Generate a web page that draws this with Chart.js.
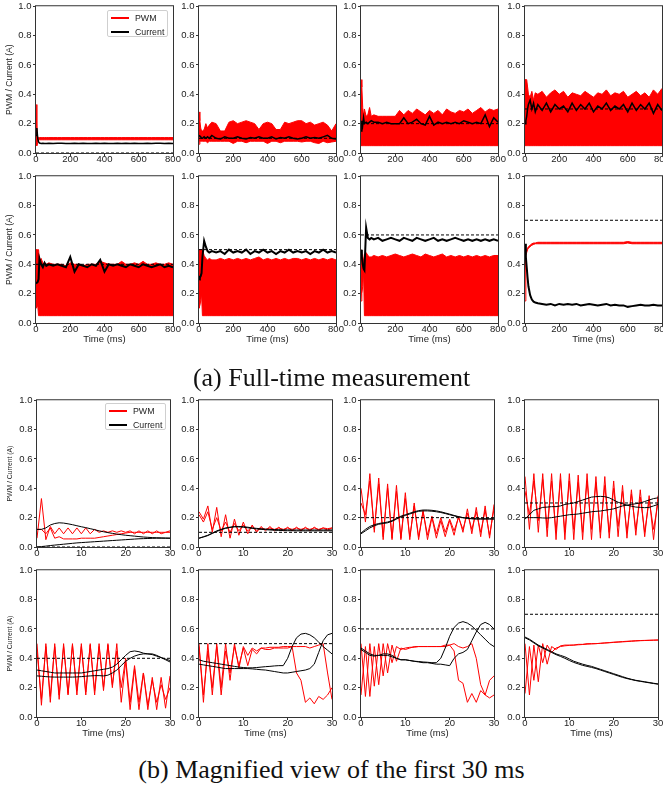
<!DOCTYPE html>
<html>
<head>
<meta charset="utf-8">
<script src="https://cdn.jsdelivr.net/npm/chart.js@4.4.1/dist/chart.umd.min.js"></script>
<style>
  body { margin: 0; width: 663px; height: 789px; overflow: hidden; background: #fff; position: relative; font-family: "Liberation Sans", Arial, sans-serif; }
  canvas { position: absolute; }
  .legend { position: absolute; width: 61px; height: 27px; border: 1px solid #cfcfcf; border-radius: 2px; background: rgba(255,255,255,0.85); box-sizing: border-box; }
  .legend .row { position: absolute; left: 0; font-size: 8.8px; color: #222; line-height: 10px; }
  .legend .swatch { position: absolute; left: 3px; width: 18px; height: 0; border-top: 2px solid; }
  .legend .lbl { position: absolute; left: 27px; top: -4px; white-space: nowrap; }
  .caption { position: absolute; left: 0; width: 663px; text-align: center; font-family: "Liberation Serif", "Times New Roman", serif; font-size: 26px; line-height: 26px; color: #111; }
</style>
</head>
<body>
<script>
// time axes (ms)
const tFull = [0,5,10,15,20,30,40,50,60,75,
  100,125,150,175,200,225,250,275,300,325,
  350,375,400,425,450,475,500,525,550,575,
  600,625,650,675,700,725,750,775,800];
const tZoom = [0,1,2,3,4,5,6,7,8,9,10,11,12,13,14,15,16,17,18,19,20,21,22,23,24,25,26,27,28,29,30];
const xTicksFull = [0,200,400,600,800];
const xTicksZoom = [0,10,20,30];
const yTicks = [0.0,0.2,0.4,0.6,0.8,1.0];
const targets = [0.0,0.1,0.2,0.3,0.4,0.5,0.6,0.7];

// full-time measurement: PWM envelope (high / low) and current
const pwmHi1 = [0.33,0.14,0.11,0.105,0.105,0.105,0.105,0.105,0.105,0.105,
  0.105,0.105,0.105,0.105,0.105,0.105,0.105,0.105,0.105,0.105,
  0.105,0.105,0.105,0.105,0.105,0.105,0.105,0.105,0.105,0.105,
  0.105,0.105,0.105,0.105,0.105,0.105,0.105,0.105,0.105];
const pwmLo1 = [0.06,0.05,0.07,0.09,0.09,0.09,0.09,0.09,0.09,0.09,
  0.09,0.09,0.09,0.09,0.09,0.09,0.09,0.09,0.09,0.09,
  0.09,0.09,0.09,0.09,0.09,0.09,0.09,0.09,0.09,0.09,
  0.09,0.09,0.09,0.09,0.09,0.09,0.09,0.09,0.09];
const cur1 = [0.12,0.17,0.10,0.075,0.068,0.065,0.066,0.064,0.065,0.066,
  0.065,0.067,0.066,0.065,0.064,0.066,0.065,0.066,0.064,0.065,
  0.066,0.065,0.067,0.065,0.064,0.066,0.065,0.066,0.065,0.067,
  0.065,0.064,0.066,0.065,0.067,0.066,0.065,0.066,0.065];

const pwmHi2 = [0.28,0.22,0.17,0.15,0.15,0.16,0.20,0.17,0.19,0.21,
  0.20,0.15,0.15,0.21,0.22,0.20,0.21,0.22,0.21,0.20,
  0.16,0.20,0.21,0.20,0.16,0.16,0.21,0.20,0.21,0.22,
  0.22,0.20,0.21,0.19,0.20,0.21,0.19,0.15,0.20];
const pwmLo2 = [0.06,0.08,0.08,0.08,0.08,0.08,0.08,0.07,0.08,0.08,
  0.08,0.08,0.08,0.08,0.065,0.08,0.08,0.07,0.08,0.08,
  0.08,0.08,0.065,0.08,0.08,0.07,0.08,0.08,0.08,0.08,
  0.075,0.08,0.08,0.07,0.065,0.08,0.07,0.075,0.08];
const cur2 = [0.12,0.12,0.11,0.10,0.10,0.11,0.10,0.11,0.10,0.12,
  0.10,0.095,0.11,0.10,0.10,0.11,0.10,0.095,0.105,0.10,
  0.11,0.10,0.10,0.11,0.095,0.105,0.10,0.11,0.10,0.095,
  0.10,0.11,0.10,0.105,0.10,0.11,0.12,0.10,0.095];

const pwmHi3 = [0.50,0.45,0.31,0.25,0.30,0.25,0.26,0.31,0.25,0.26,
  0.25,0.25,0.25,0.25,0.25,0.29,0.26,0.29,0.27,0.30,
  0.28,0.26,0.29,0.27,0.29,0.26,0.30,0.28,0.27,0.29,
  0.28,0.30,0.27,0.29,0.31,0.28,0.30,0.29,0.30];
const pwmLo3 = [0.05,0.05,0.05,0.05,0.05,0.05,0.05,0.05,0.05,0.05,
  0.05,0.05,0.05,0.05,0.05,0.05,0.05,0.05,0.05,0.05,
  0.05,0.05,0.05,0.05,0.05,0.05,0.05,0.05,0.05,0.05,
  0.05,0.05,0.05,0.05,0.05,0.05,0.05,0.05,0.05];
const cur3 = [0.15,0.22,0.19,0.24,0.20,0.21,0.20,0.21,0.22,0.21,
  0.21,0.20,0.21,0.20,0.20,0.20,0.24,0.20,0.21,0.23,
  0.20,0.19,0.25,0.19,0.21,0.20,0.21,0.20,0.21,0.20,
  0.22,0.21,0.20,0.21,0.20,0.26,0.18,0.24,0.21];

const pwmHi4 = [0.50,0.50,0.50,0.45,0.40,0.38,0.42,0.36,0.41,0.40,
  0.42,0.38,0.41,0.43,0.40,0.42,0.38,0.41,0.40,0.39,
  0.42,0.40,0.38,0.41,0.40,0.43,0.39,0.41,0.40,0.42,
  0.38,0.40,0.42,0.39,0.41,0.38,0.43,0.40,0.44];
const pwmLo4 = [0.05,0.05,0.05,0.05,0.05,0.05,0.05,0.05,0.05,0.05,
  0.05,0.05,0.05,0.05,0.05,0.05,0.05,0.05,0.05,0.05,
  0.05,0.05,0.05,0.05,0.05,0.05,0.05,0.05,0.05,0.05,
  0.05,0.05,0.05,0.05,0.05,0.05,0.05,0.05,0.05];
const cur4 = [0.20,0.22,0.25,0.30,0.33,0.36,0.30,0.34,0.28,0.33,
  0.29,0.34,0.28,0.33,0.30,0.32,0.28,0.34,0.29,0.33,
  0.30,0.34,0.28,0.32,0.30,0.34,0.29,0.32,0.30,0.33,
  0.28,0.34,0.29,0.33,0.30,0.34,0.27,0.33,0.29];

const pwmHi5 = [0.50,0.50,0.50,0.50,0.42,0.44,0.41,0.40,0.40,0.41,
  0.40,0.40,0.40,0.39,0.41,0.40,0.40,0.39,0.40,0.40,
  0.40,0.42,0.41,0.40,0.40,0.40,0.42,0.40,0.40,0.41,
  0.40,0.42,0.40,0.40,0.41,0.40,0.40,0.41,0.40];
const pwmLo5 = [0.10,0.10,0.12,0.05,0.05,0.05,0.05,0.05,0.05,0.05,
  0.05,0.05,0.05,0.05,0.05,0.05,0.05,0.05,0.05,0.05,
  0.05,0.05,0.05,0.05,0.05,0.05,0.05,0.05,0.05,0.05,
  0.05,0.05,0.05,0.05,0.05,0.05,0.05,0.05,0.05];
const cur5 = [0.27,0.27,0.28,0.30,0.44,0.40,0.38,0.41,0.39,0.40,
  0.39,0.40,0.39,0.38,0.45,0.35,0.40,0.39,0.38,0.40,
  0.39,0.43,0.35,0.40,0.39,0.40,0.39,0.38,0.40,0.39,
  0.38,0.40,0.39,0.38,0.39,0.40,0.38,0.39,0.38];

const pwmHi6 = [0.50,0.50,0.50,0.50,0.50,0.46,0.44,0.43,0.44,0.43,
  0.43,0.44,0.43,0.44,0.43,0.44,0.43,0.44,0.43,0.44,
  0.45,0.43,0.44,0.43,0.44,0.43,0.44,0.43,0.44,0.44,
  0.43,0.44,0.43,0.44,0.43,0.44,0.43,0.44,0.43];
const pwmLo6 = [0.10,0.10,0.15,0.20,0.05,0.05,0.05,0.05,0.05,0.05,
  0.05,0.05,0.05,0.05,0.05,0.05,0.05,0.05,0.05,0.05,
  0.05,0.05,0.05,0.05,0.05,0.05,0.05,0.05,0.05,0.05,
  0.05,0.05,0.05,0.05,0.05,0.05,0.05,0.05,0.05];
const cur6 = [0.32,0.31,0.32,0.34,0.45,0.56,0.52,0.49,0.48,0.49,
  0.48,0.49,0.47,0.50,0.48,0.49,0.48,0.50,0.47,0.49,
  0.48,0.50,0.48,0.49,0.47,0.49,0.48,0.50,0.48,0.49,
  0.48,0.49,0.47,0.49,0.48,0.50,0.48,0.49,0.48];

const pwmHi7 = [0.50,0.50,0.45,0.42,0.47,0.48,0.46,0.45,0.45,0.46,
  0.45,0.46,0.45,0.46,0.47,0.46,0.45,0.46,0.47,0.46,
  0.45,0.47,0.46,0.45,0.46,0.47,0.45,0.46,0.45,0.46,
  0.45,0.46,0.45,0.46,0.45,0.46,0.45,0.46,0.46];
const pwmLo7 = [0.15,0.20,0.25,0.35,0.05,0.05,0.05,0.05,0.05,0.05,
  0.05,0.05,0.05,0.05,0.05,0.05,0.05,0.05,0.05,0.05,
  0.05,0.05,0.05,0.05,0.05,0.05,0.05,0.05,0.05,0.05,
  0.05,0.05,0.05,0.05,0.05,0.05,0.05,0.05,0.05];
const cur7 = [0.50,0.45,0.40,0.37,0.36,0.65,0.58,0.57,0.58,0.57,
  0.58,0.56,0.57,0.58,0.57,0.56,0.58,0.57,0.56,0.58,
  0.57,0.56,0.57,0.58,0.56,0.57,0.56,0.57,0.58,0.57,
  0.56,0.57,0.56,0.57,0.56,0.57,0.56,0.57,0.56];

const pwmHi8 = [0.50,0.49,0.50,0.51,0.52,0.53,0.54,0.545,0.545,0.55,
  0.55,0.55,0.55,0.55,0.55,0.55,0.55,0.55,0.55,0.55,
  0.55,0.55,0.55,0.55,0.55,0.55,0.55,0.55,0.55,0.55,
  0.555,0.55,0.55,0.55,0.55,0.55,0.55,0.55,0.55];
const pwmLo8 = [0.15,0.46,0.48,0.50,0.51,0.52,0.53,0.535,0.54,0.54,
  0.54,0.54,0.54,0.54,0.54,0.54,0.54,0.54,0.54,0.54,
  0.54,0.54,0.54,0.54,0.54,0.54,0.54,0.54,0.54,0.54,
  0.545,0.54,0.54,0.54,0.54,0.54,0.54,0.54,0.54];
const cur8 = [0.54,0.45,0.38,0.31,0.25,0.19,0.16,0.145,0.14,0.135,
  0.13,0.125,0.13,0.12,0.13,0.125,0.13,0.125,0.13,0.12,
  0.125,0.13,0.125,0.12,0.125,0.13,0.12,0.125,0.12,0.12,
  0.11,0.115,0.12,0.125,0.12,0.12,0.125,0.12,0.12];

// first 30 ms: two runs each (A / B)
const zPwmA1 = [0.06,0.33,0.05,0.14,0.09,0.13,0.09,0.13,0.09,0.13,0.09,0.13,0.09,0.12,0.10,0.11,0.10,0.11,0.10,0.11,0.10,0.11,0.09,0.11,0.09,0.11,0.09,0.11,0.09,0.10,0.11];
const zPwmB1 = [0.12,0.12,0.09,0.13,0.06,0.07,0.055,0.055,0.055,0.055,0.06,0.06,0.06,0.06,0.065,0.07,0.075,0.08,0.085,0.09,0.095,0.10,0.10,0.10,0.10,0.10,0.10,0.10,0.10,0.10,0.10];
const zCurA1 = [0.12,0.12,0.13,0.15,0.16,0.165,0.163,0.158,0.152,0.145,0.138,0.132,0.125,0.118,0.11,0.104,0.098,0.093,0.088,0.084,0.08,0.077,0.074,0.071,0.068,0.066,0.064,0.063,0.062,0.061,0.06];
const zCurB1 = [0.0,0.003,0.006,0.01,0.013,0.016,0.019,0.022,0.025,0.028,0.03,0.032,0.034,0.036,0.038,0.04,0.042,0.044,0.046,0.048,0.05,0.052,0.054,0.056,0.057,0.058,0.059,0.06,0.06,0.06,0.06];

const zPwmA2 = [0.24,0.19,0.28,0.10,0.27,0.07,0.22,0.06,0.19,0.08,0.17,0.09,0.15,0.10,0.14,0.11,0.14,0.11,0.135,0.11,0.135,0.11,0.135,0.11,0.135,0.11,0.135,0.115,0.13,0.115,0.13];
const zPwmB2 = [0.22,0.17,0.24,0.12,0.20,0.11,0.17,0.10,0.16,0.11,0.15,0.11,0.14,0.11,0.13,0.12,0.13,0.12,0.13,0.12,0.13,0.12,0.13,0.12,0.13,0.12,0.13,0.12,0.13,0.125,0.13];
const zCurA2 = [0.06,0.07,0.08,0.095,0.11,0.12,0.13,0.135,0.14,0.14,0.138,0.135,0.13,0.127,0.124,0.122,0.12,0.119,0.118,0.117,0.117,0.116,0.116,0.116,0.116,0.116,0.116,0.116,0.116,0.116,0.116];
const zCurB2 = [0.06,0.068,0.078,0.092,0.106,0.118,0.127,0.133,0.137,0.137,0.135,0.131,0.127,0.123,0.12,0.118,0.116,0.114,0.113,0.112,0.111,0.111,0.11,0.11,0.11,0.11,0.11,0.11,0.11,0.11,0.11];

const zPwmA3 = [0.40,0.17,0.50,0.10,0.47,0.05,0.43,0.05,0.42,0.05,0.37,0.05,0.30,0.05,0.25,0.05,0.20,0.06,0.18,0.07,0.18,0.08,0.21,0.10,0.26,0.09,0.27,0.07,0.28,0.06,0.29];
const zPwmB3 = [0.30,0.22,0.45,0.12,0.43,0.07,0.40,0.06,0.38,0.06,0.33,0.07,0.28,0.07,0.24,0.08,0.21,0.09,0.20,0.10,0.19,0.11,0.20,0.12,0.23,0.12,0.24,0.10,0.25,0.08,0.26];
const zCurA3 = [0.09,0.11,0.13,0.145,0.155,0.16,0.165,0.175,0.19,0.205,0.215,0.225,0.235,0.243,0.246,0.246,0.244,0.24,0.235,0.228,0.22,0.212,0.205,0.2,0.196,0.194,0.193,0.193,0.193,0.193,0.192];
const zCurB3 = [0.095,0.12,0.14,0.152,0.16,0.165,0.17,0.18,0.195,0.21,0.22,0.23,0.24,0.248,0.252,0.252,0.25,0.246,0.24,0.232,0.224,0.215,0.207,0.2,0.195,0.192,0.19,0.19,0.19,0.19,0.19];

const zPwmA4 = [0.48,0.12,0.50,0.10,0.50,0.07,0.50,0.05,0.50,0.05,0.50,0.05,0.49,0.05,0.50,0.05,0.48,0.06,0.48,0.06,0.45,0.07,0.42,0.06,0.39,0.08,0.39,0.07,0.35,0.05,0.35];
const zPwmB4 = [0.38,0.22,0.45,0.18,0.46,0.13,0.45,0.10,0.46,0.10,0.45,0.12,0.44,0.10,0.45,0.12,0.44,0.10,0.42,0.10,0.40,0.14,0.38,0.10,0.36,0.12,0.34,0.10,0.32,0.12,0.30];
const zCurA4 = [0.19,0.22,0.25,0.26,0.27,0.272,0.275,0.275,0.28,0.29,0.295,0.30,0.31,0.32,0.33,0.34,0.343,0.345,0.343,0.335,0.32,0.305,0.295,0.285,0.278,0.272,0.27,0.268,0.27,0.28,0.29];
const zCurB4 = [0.20,0.20,0.20,0.20,0.198,0.197,0.2,0.205,0.21,0.215,0.22,0.222,0.225,0.23,0.235,0.24,0.243,0.245,0.25,0.255,0.26,0.27,0.28,0.285,0.29,0.295,0.30,0.31,0.32,0.33,0.335];

const zPwmA5 = [0.50,0.08,0.50,0.10,0.50,0.12,0.50,0.15,0.50,0.15,0.50,0.15,0.50,0.15,0.50,0.18,0.50,0.20,0.50,0.10,0.38,0.05,0.33,0.05,0.30,0.05,0.27,0.05,0.27,0.06,0.28];
const zPwmB5 = [0.45,0.12,0.48,0.14,0.48,0.15,0.48,0.16,0.49,0.18,0.48,0.17,0.49,0.18,0.48,0.20,0.49,0.22,0.45,0.20,0.40,0.10,0.35,0.10,0.30,0.08,0.25,0.10,0.22,0.12,0.20];
const zCurA5 = [0.32,0.315,0.31,0.305,0.30,0.30,0.30,0.30,0.30,0.30,0.30,0.305,0.31,0.315,0.32,0.325,0.33,0.34,0.36,0.39,0.42,0.445,0.45,0.445,0.435,0.43,0.425,0.415,0.405,0.395,0.385];
const zCurB5 = [0.28,0.278,0.275,0.273,0.272,0.272,0.272,0.272,0.272,0.273,0.275,0.278,0.28,0.282,0.282,0.28,0.285,0.30,0.32,0.35,0.38,0.40,0.415,0.425,0.43,0.43,0.43,0.42,0.405,0.39,0.375];

const zPwmA6 = [0.50,0.10,0.50,0.15,0.50,0.20,0.50,0.25,0.50,0.33,0.48,0.42,0.47,0.45,0.47,0.47,0.475,0.475,0.475,0.48,0.48,0.48,0.30,0.25,0.10,0.13,0.09,0.14,0.12,0.15,0.20];
const zPwmB6 = [0.48,0.15,0.45,0.20,0.48,0.15,0.45,0.30,0.48,0.35,0.47,0.35,0.46,0.43,0.47,0.46,0.46,0.47,0.47,0.47,0.47,0.48,0.48,0.48,0.48,0.47,0.48,0.49,0.50,0.30,0.12];
const zCurA6 = [0.39,0.38,0.375,0.37,0.365,0.36,0.355,0.35,0.345,0.34,0.337,0.335,0.335,0.337,0.34,0.343,0.345,0.348,0.35,0.35,0.40,0.48,0.54,0.565,0.57,0.56,0.54,0.51,0.48,0.455,0.43];
const zCurB6 = [0.36,0.355,0.35,0.345,0.34,0.335,0.33,0.33,0.33,0.33,0.33,0.33,0.328,0.325,0.322,0.32,0.315,0.31,0.305,0.30,0.30,0.305,0.31,0.315,0.32,0.33,0.36,0.44,0.52,0.56,0.57];

const zPwmA7 = [0.50,0.14,0.50,0.21,0.50,0.28,0.50,0.37,0.48,0.46,0.47,0.475,0.475,0.48,0.48,0.48,0.48,0.48,0.48,0.49,0.49,0.45,0.25,0.23,0.10,0.16,0.10,0.18,0.15,0.25,0.28];
const zPwmB7 = [0.15,0.48,0.14,0.48,0.22,0.50,0.30,0.49,0.38,0.47,0.46,0.47,0.48,0.48,0.48,0.48,0.48,0.48,0.48,0.48,0.49,0.50,0.48,0.47,0.48,0.50,0.40,0.22,0.15,0.13,0.15];
const zCurA7 = [0.47,0.45,0.43,0.42,0.42,0.42,0.42,0.41,0.40,0.39,0.39,0.385,0.38,0.378,0.375,0.373,0.37,0.37,0.40,0.47,0.55,0.61,0.64,0.65,0.64,0.62,0.59,0.56,0.53,0.50,0.48];
const zCurB7 = [0.46,0.44,0.42,0.415,0.42,0.43,0.43,0.42,0.40,0.39,0.39,0.385,0.38,0.375,0.37,0.37,0.365,0.36,0.36,0.355,0.35,0.40,0.43,0.44,0.46,0.52,0.58,0.63,0.645,0.63,0.60];

const zPwmA8 = [0.50,0.15,0.49,0.24,0.50,0.36,0.48,0.46,0.485,0.49,0.49,0.49,0.495,0.495,0.50,0.50,0.50,0.502,0.505,0.507,0.51,0.512,0.514,0.516,0.518,0.52,0.521,0.522,0.523,0.524,0.525];
const zPwmB8 = [0.16,0.48,0.25,0.49,0.37,0.49,0.44,0.47,0.48,0.485,0.488,0.49,0.492,0.494,0.496,0.498,0.50,0.502,0.504,0.506,0.508,0.51,0.512,0.514,0.516,0.518,0.52,0.521,0.522,0.523,0.524];
const zCurA8 = [0.545,0.53,0.51,0.49,0.475,0.46,0.445,0.43,0.42,0.41,0.395,0.38,0.37,0.36,0.352,0.345,0.335,0.325,0.315,0.305,0.295,0.285,0.275,0.265,0.257,0.25,0.245,0.24,0.235,0.23,0.225];
const zCurB8 = [0.54,0.525,0.505,0.485,0.47,0.455,0.44,0.425,0.413,0.40,0.385,0.372,0.362,0.352,0.345,0.338,0.33,0.32,0.31,0.30,0.29,0.28,0.27,0.262,0.255,0.248,0.243,0.238,0.233,0.228,0.224];

const fullHi = [pwmHi1, pwmHi2, pwmHi3, pwmHi4, pwmHi5, pwmHi6, pwmHi7, pwmHi8];
const fullLo = [pwmLo1, pwmLo2, pwmLo3, pwmLo4, pwmLo5, pwmLo6, pwmLo7, pwmLo8];
const fullCur = [cur1, cur2, cur3, cur4, cur5, cur6, cur7, cur8];
const zoomPwmA = [zPwmA1, zPwmA2, zPwmA3, zPwmA4, zPwmA5, zPwmA6, zPwmA7, zPwmA8];
const zoomPwmB = [zPwmB1, zPwmB2, zPwmB3, zPwmB4, zPwmB5, zPwmB6, zPwmB7, zPwmB8];
const zoomCurA = [zCurA1, zCurA2, zCurA3, zCurA4, zCurA5, zCurA6, zCurA7, zCurA8];
const zoomCurB = [zCurB1, zCurB2, zCurB3, zCurB4, zCurB5, zCurB6, zCurB7, zCurB8];

// layout (px)
const LEFTS = [[36, 199, 361, 525], [37, 199, 361, 525]];
const WIDTHS = [137, 133];
const TOPS = [6, 176, 400, 570];
const PLOT_H = 147, AXIS_W = 40, AXIS_H = 30, PAD_TOP = 6, PAD_RIGHT = 14;

Chart.defaults.font.family = '"Liberation Sans", Arial, sans-serif';
Chart.defaults.color = '#222';

const framePlugin = {
    id: 'frame',
    afterDatasetsDraw(chart) {
        const a = chart.chartArea, c = chart.ctx;
        c.save();
        c.strokeStyle = '#333';
        c.lineWidth = 1;
        c.strokeRect(a.left - 0.5, a.top - 0.5, a.right - a.left + 1, a.bottom - a.top + 1);
        c.restore();
    }
};

function pts(xs, ys) {
    return ys.map((y, i) => ({ x: xs[i], y: y }));
}

function line(data, color, width, extra) {
    return Object.assign({
        data: data, borderColor: color, borderWidth: width,
        pointRadius: 0, tension: 0, fill: false
    }, extra || {});
}

function makePlot(section, idx) {
    const row = section * 2 + Math.floor(idx / 4), col = idx % 4;
    const w = WIDTHS[section];
    const cv = document.createElement("canvas");
    cv.width = AXIS_W + w + PAD_RIGHT;
    cv.height = PAD_TOP + PLOT_H + AXIS_H;
    cv.style.left = (LEFTS[section][col] - AXIS_W) + "px";
    cv.style.top = (TOPS[row] - PAD_TOP) + "px";
    document.body.appendChild(cv);

    const tMax = section === 0 ? 800 : 30;
    const xTicks = section === 0 ? xTicksFull : xTicksZoom;
    const target = line([{ x: 0, y: targets[idx] }, { x: tMax, y: targets[idx] }], "#000", 1,
        { borderDash: [3, 2], order: 0 });

    let datasets;
    if (section === 0) {
        datasets = [
            target,
            line(pts(tFull, fullCur[idx]), "#000", idx >= 4 ? 2 : 1.5, { order: 1 }),
            line(pts(tFull, fullLo[idx]), "#ff0000", 1, { order: 3 }),
            line(pts(tFull, fullHi[idx]), "#ff0000", 1, { order: 2, fill: "-1", backgroundColor: "#ff0000" })
        ];
    } else {
        datasets = [
            target,
            line(pts(tZoom, zoomCurA[idx]), "#000", 1, { order: 1 }),
            line(pts(tZoom, zoomCurB[idx]), "#000", 1, { order: 1 }),
            line(pts(tZoom, zoomPwmA[idx]), "#ff0000", 1, { order: 2 }),
            line(pts(tZoom, zoomPwmB[idx]), "#ff0000", 1, { order: 2 })
        ];
    }

    const tickFont = { size: 9.5, lineHeight: 1 };
    new Chart(cv, {
        type: "line",
        data: { datasets: datasets },
        options: {
            responsive: false,
            animation: false,
            events: [],
            layout: { padding: { top: PAD_TOP, right: PAD_RIGHT, left: 0, bottom: 0 } },
            plugins: { legend: { display: false }, tooltip: { enabled: false } },
            scales: {
                x: {
                    type: "linear", min: 0, max: tMax,
                    afterBuildTicks: s => { s.ticks = xTicks.map(v => ({ value: v })); },
                    afterFit: s => { s.height = AXIS_H; },
                    grid: { display: true, drawOnChartArea: false, drawTicks: true, tickLength: 3, tickColor: "#333" },
                    border: { display: false },
                    ticks: { font: tickFont, color: "#222", padding: -1, maxRotation: 0, autoSkip: false },
                    title: {
                        display: row === 1 || row === 3, text: "Time (ms)",
                        font: { size: 9.5, lineHeight: 1 }, color: "#222", padding: { top: 0, bottom: 8.5 }
                    }
                },
                y: {
                    type: "linear", min: 0, max: 1,
                    afterBuildTicks: s => { s.ticks = yTicks.map(v => ({ value: v })); },
                    afterFit: s => { s.width = AXIS_W; },
                    grid: { display: true, drawOnChartArea: false, drawTicks: true, tickLength: 3, tickColor: "#333" },
                    border: { display: false },
                    ticks: { font: tickFont, color: "#222", padding: 1.5, callback: v => v.toFixed(1) },
                    title: {
                        display: col === 0, text: "PWM / Current (A)",
                        font: { size: section === 0 ? 8.6 : 6.8, lineHeight: 1 }, color: "#222",
                        padding: { top: 9.5, bottom: 0 }
                    }
                }
            }
        },
        plugins: [framePlugin]
    });
}

function addLegend(x, y) {
    const box = document.createElement("div");
    box.className = "legend";
    box.style.left = x + "px";
    box.style.top = y + "px";
    box.innerHTML =
        '<div class="row" style="top:6px"><div class="swatch" style="border-color:#ff0000"></div><span class="lbl">PWM</span></div>' +
        '<div class="row" style="top:19.5px"><div class="swatch" style="border-color:#000"></div><span class="lbl">Current</span></div>';
    document.body.appendChild(box);
}

function addCaption(text, top) {
    const d = document.createElement("div");
    d.className = "caption";
    d.style.top = top + "px";
    d.textContent = text;
    document.body.appendChild(d);
}

for (let s = 0; s < 2; s++) {
    for (let i = 0; i < 8; i++) makePlot(s, i);
}
addLegend(107, 10);
addLegend(105, 403);
addCaption("(a) Full-time measurement", 365);
addCaption("(b) Magnified view of the first 30 ms", 757);
</script>
</body>
</html>
